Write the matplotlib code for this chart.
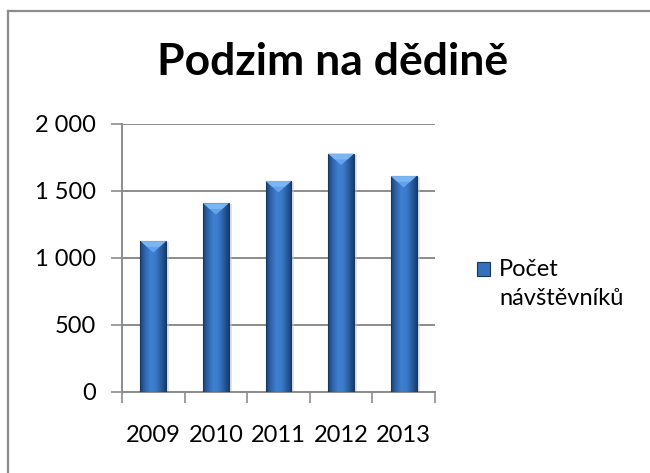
"""Podzim na dědině - počet návštěvníků po letech (sloupcový graf ve stylu Excelu)."""
import numpy as np
import matplotlib
matplotlib.use("Agg")
import matplotlib.pyplot as plt
from matplotlib.colors import LinearSegmentedColormap
from matplotlib.lines import Line2D
from matplotlib.patches import Polygon, Rectangle
from matplotlib.ticker import FuncFormatter, MultipleLocator

plt.rcParams["font.family"] = ["Lato", "DejaVu Sans"]

years = ["2009", "2010", "2011", "2012", "2013"]
visitors = [1125, 1408, 1574, 1778, 1611]
title = "Podzim na dědině"
series_label = "Počet\nnávštěvníků"

GRID = "#8c8c8c"
# horizontal bevel: dark edges, lighter centre
bar_cmap = LinearSegmentedColormap.from_list(
    "bevel", ["#1b4477", "#2f67b0", "#3f80d0", "#3b7ac8", "#2a5ea3", "#183f70"])

W, H = 650, 473
fig = plt.figure(figsize=(6.5, 4.73), dpi=100)
ax = fig.add_axes([122 / W, 1 - 391.7 / H, 313 / W, 267.7 / H])

x = np.arange(len(years))
bars = ax.bar(x, visitors, width=0.41, color="none", zorder=3)

grad = np.linspace(0, 1, 64).reshape(1, -1)
for b in bars:
    x0, w, h = b.get_x(), b.get_width(), b.get_height()
    # soft shadow on the right
    ax.add_patch(Rectangle((x0 + w, 0), w * 0.12, h * 0.995, color="#c8c8c8",
                           alpha=0.5, lw=0, zorder=2))
    im = ax.imshow(grad, cmap=bar_cmap, aspect="auto", extent=(x0, x0 + w, 0, h),
                   zorder=3, interpolation="bicubic")
    im.set_clip_path(b)
    ax.add_patch(Rectangle((x0, 0), w, h, fill=False, ec="#17375e", lw=0.8, zorder=4))
    # top bevel highlight (inverted triangle)
    d = 85
    ax.add_patch(Polygon([(x0, h), (x0 + w, h), (x0 + w * 0.5, h - d)], closed=True,
                         fc="#66a6f0", ec="none", alpha=0.95, zorder=4))
    ax.add_patch(Polygon([(x0, h), (x0 + w, h), (x0 + w * 0.75, h - d * 0.5),
                          (x0 + w * 0.25, h - d * 0.5)], closed=True,
                         fc="#95c8fa", ec="none", alpha=0.5, zorder=4))

ax.set_xlim(-0.5, len(years) - 0.5)
ax.set_ylim(0, 2000)
ax.yaxis.set_major_locator(MultipleLocator(500))
ax.yaxis.set_major_formatter(FuncFormatter(lambda v, _: f"{v:,.0f}".replace(",", " ")))
ax.set_xticks(x)
ax.set_xticklabels(years)
ax.set_xticks(np.arange(len(years) + 1) - 0.5, minor=True)
ax.tick_params(axis="x", which="major", length=0, pad=24, labelsize=17)
ax.tick_params(axis="x", which="minor", length=8, color=GRID, width=1.2)
ax.tick_params(axis="y", length=8, color=GRID, width=1.2, pad=11, labelsize=17)

ax.grid(axis="y", color=GRID, lw=1.4, zorder=1)
ax.set_axisbelow(True)
for s in ("top", "right"):
    ax.spines[s].set_visible(False)
for s in ("left", "bottom"):
    ax.spines[s].set_color(GRID)
    ax.spines[s].set_linewidth(1.4)

fig.text(333 / W, 1 - 75 / H, title, ha="center", va="baseline",
         fontsize=32, fontweight="bold")

# legend (handle sits beside the first line of the label)
fig.add_artist(Rectangle((477 / W, 1 - 276 / H), 13 / W, 14 / H, fc="#3470bb",
                         ec="#17375e", lw=0.8, transform=fig.transFigure))
fig.text(499 / W, 1 - 259 / H, series_label, ha="left", va="top",
         fontsize=17, linespacing=1.45)

# outer chart frame (only top and left edges are visible in the crop)
fig.add_artist(Line2D([7.5 / W, 7.5 / W], [0, 1 - 11.5 / H], color="#8c8c8c", lw=1.6))
fig.add_artist(Line2D([7.5 / W, 1], [1 - 11.5 / H, 1 - 11.5 / H], color="#8c8c8c", lw=1.6))

fig.savefig("out.png", dpi=100)
